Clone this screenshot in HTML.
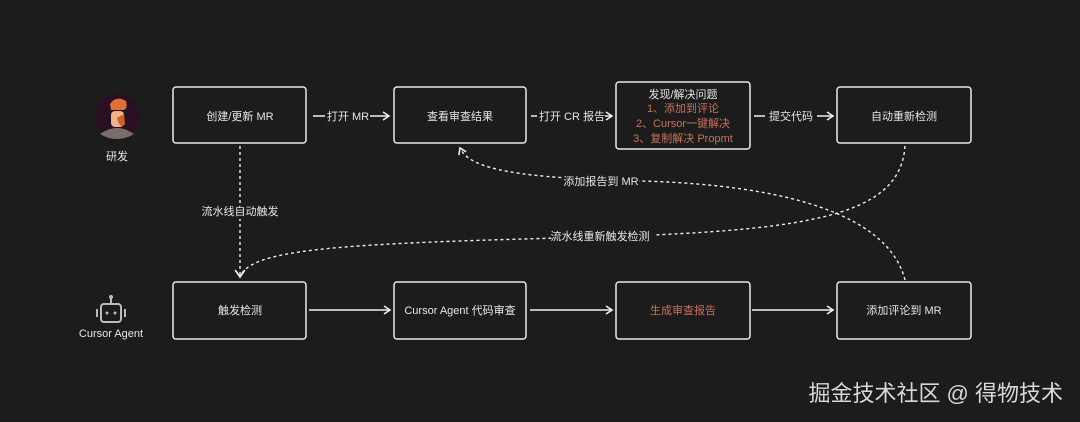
<!DOCTYPE html>
<html><head><meta charset="utf-8"><style>
html,body{margin:0;padding:0;background:#1c1c1c;}
svg{display:block}
text{font-family:"Liberation Sans","Noto Sans CJK SC",sans-serif;fill:#e6e6e6;font-size:11px;}
</style></head><body>
<svg width="1080" height="422" viewBox="0 0 1080 422" xmlns="http://www.w3.org/2000/svg">
<defs>
<marker id="a" markerWidth="10" markerHeight="10" refX="8" refY="5" orient="auto" markerUnits="userSpaceOnUse">
<path d="M2,1 L8,5 L2,9" fill="none" stroke="#eee" stroke-width="1.6"/></marker>
</defs>
<rect width="1080" height="422" fill="#1c1c1c"/>
<g fill="none" stroke="#eaeaea" stroke-width="1.5">
<rect x="173" y="87" width="133" height="56" rx="3"/>
<rect x="394" y="87" width="132" height="56" rx="3"/>
<rect x="616" y="82" width="134" height="67" rx="3"/>
<rect x="837" y="87" width="134" height="56" rx="3"/>
<rect x="173" y="282" width="133" height="57" rx="3"/>
<rect x="394" y="282" width="132" height="57" rx="3"/>
<rect x="616" y="282" width="134" height="57" rx="3"/>
<rect x="837" y="282" width="134" height="57" rx="3"/>
</g>
<g stroke="#eee" stroke-width="1.5" fill="none">
<line x1="313" y1="116" x2="325" y2="116"/><line x1="370" y1="116" x2="389" y2="116" marker-end="url(#a)"/>
<line x1="531" y1="116" x2="537" y2="116"/><line x1="605" y1="116" x2="612" y2="116" marker-end="url(#a)"/>
<line x1="754" y1="116" x2="765" y2="116"/><line x1="817" y1="116" x2="833" y2="116" marker-end="url(#a)"/>
<line x1="309" y1="310" x2="390" y2="310" marker-end="url(#a)"/>
<line x1="530" y1="310" x2="612" y2="310" marker-end="url(#a)"/>
<line x1="752" y1="310" x2="833" y2="310" marker-end="url(#a)"/>
</g>
<g stroke="#eee" stroke-width="1.4" fill="none" stroke-dasharray="3,3">
<line x1="240" y1="146" x2="240" y2="277" marker-end="url(#a)"/>
<path d="M905,146 C900,220 800,232 560,238 C330,244 250,250 240,277"/>
<path d="M905,280 C890,220 800,185 640,181 C520,178 470,170 460,148" marker-end="url(#a)"/>
</g>
<polyline points="235,270 240,277 245,270" fill="none" stroke="#eee" stroke-width="1.5"/>
<rect x="196" y="203" width="90" height="16" fill="#1c1c1c"/>
<text x="240" y="215" text-anchor="middle" font-size="10">流水线自动触发</text>
<rect x="555" y="228" width="100" height="16" fill="#1c1c1c"/>
<text x="600" y="240" text-anchor="middle" font-size="10">流水线重新触发检测</text>
<rect x="563" y="173" width="76" height="16" fill="#1c1c1c"/>
<text x="601" y="185" text-anchor="middle" font-size="10">添加报告到 MR</text>
<text x="240" y="120" text-anchor="middle">创建/更新 MR</text>
<text x="348" y="120" text-anchor="middle">打开 MR</text>
<text x="460" y="120" text-anchor="middle">查看审查结果</text>
<text x="572" y="120" text-anchor="middle">打开 CR 报告</text>
<text x="683" y="98" text-anchor="middle">发现/解决问题</text>
<text x="683" y="112" text-anchor="middle" style="fill:#c9705a">1、添加到评论</text>
<text x="683" y="127" text-anchor="middle" style="fill:#c9705a">2、Cursor一键解决</text>
<text x="683" y="142" text-anchor="middle" style="fill:#c9705a">3、复制解决 Propmt</text>
<text x="791" y="120" text-anchor="middle">提交代码</text>
<text x="904" y="120" text-anchor="middle">自动重新检测</text>
<text x="240" y="314" text-anchor="middle">触发检测</text>
<text x="460" y="314" text-anchor="middle">Cursor Agent 代码审查</text>
<text x="683" y="314" text-anchor="middle" style="fill:#c9705a">生成审查报告</text>
<text x="904" y="314" text-anchor="middle">添加评论到 MR</text>
<text x="117" y="160" text-anchor="middle">研发</text>
<text x="111" y="337" text-anchor="middle" font-size="10.5">Cursor Agent</text>
<circle cx="117" cy="116" r="22" fill="#2a0f22"/>
<path d="M100,134 Q117,122 134,134 Q126,139 117,139 Q108,139 100,134Z" fill="#7a6c6a"/>
<rect x="111" y="111" width="13" height="16" rx="4" fill="#f0b08a"/>
<path d="M110,104 Q116,95 126,101 Q128,108 124,110 L111,110Z" fill="#e0703a"/>
<path d="M117,118 Q120,130 125,124 L124,114Z" fill="#d0602a"/>
<g fill="none" stroke="#bbb" stroke-width="2">
<rect x="101" y="304" width="20" height="18" rx="3"/>
<line x1="111" y1="298" x2="111" y2="304"/>
<line x1="97" y1="309" x2="97" y2="317"/><line x1="125" y1="309" x2="125" y2="317"/>
</g>
<circle cx="111" cy="297" r="2" fill="#bbb"/>
<circle cx="107" cy="313" r="1.5" fill="#bbb"/><circle cx="115" cy="313" r="1.5" fill="#bbb"/>
<text x="1063" y="401" text-anchor="end" style="font-size:22px;fill:#d8d8d8">掘金技术社区 @ 得物技术</text>
</svg>
</body></html>
